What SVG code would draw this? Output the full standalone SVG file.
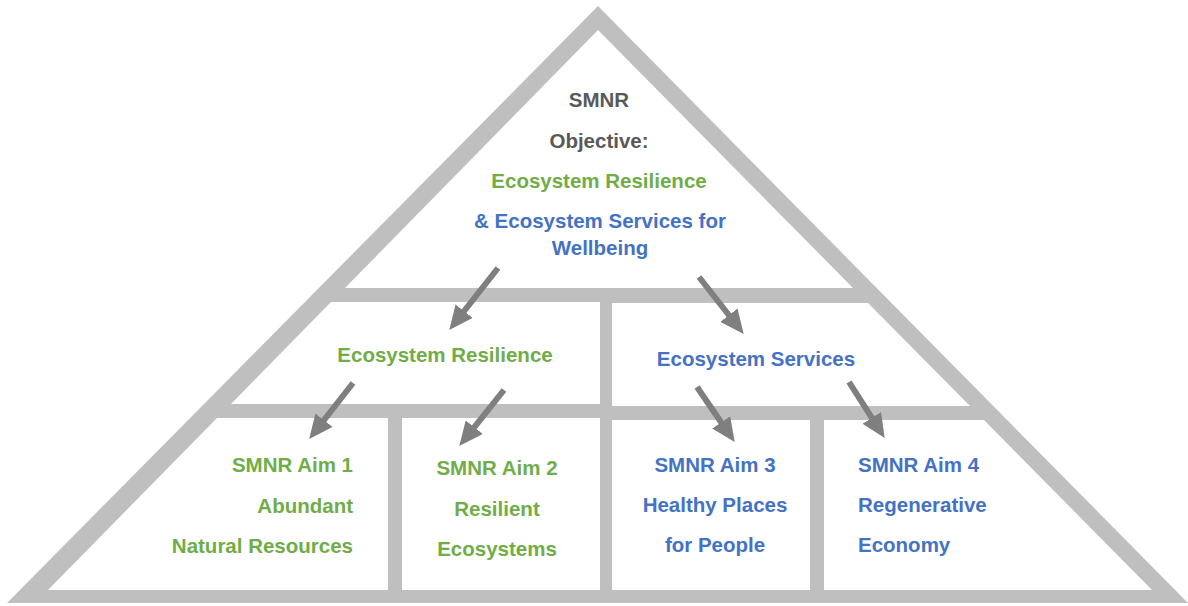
<svg xmlns="http://www.w3.org/2000/svg" width="1188" height="606" viewBox="0 0 1188 606">
  <style>
    .frame { fill: #BFBFBF; }
    .cell { fill: #FFFFFF; }
    .t { font-family: "Liberation Sans", Arial, sans-serif; font-weight: bold; font-size: 20.5px; }
    .gray { fill: #595959; }
    .green { fill: #70AD47; }
    .blue { fill: #4472C4; }
    .mid { text-anchor: middle; }
    .end { text-anchor: end; }
    .start { text-anchor: start; }
    .arrow { stroke: #7F7F7F; stroke-width: 6; fill: none; marker-end: url(#head); }
  </style>
  <defs>
    <marker id="head" markerUnits="userSpaceOnUse" markerWidth="24" markerHeight="22" viewBox="0 0 22 20" refX="8" refY="10" orient="auto">
      <path d="M0,0 L22,10 L0,20 Z" fill="#7F7F7F"/>
    </marker>
  </defs>
  <rect width="1188" height="606" fill="#FFFFFF"/>
  <g id="pyramid-frame">
    <polygon class="frame" points="598,6 7,603 1188,603"/>
  </g>
  <g id="objective">
    <polygon class="cell" points="598,30 345,288 853,288"/>
    <text class="t gray mid" x="599" y="107">SMNR</text>
    <text class="t gray mid" x="599" y="148">Objective:</text>
    <text class="t green mid" x="599" y="188">Ecosystem Resilience</text>
    <text class="t blue mid" x="600" y="228">&amp; Ecosystem Services for</text>
    <text class="t blue mid" x="600" y="255">Wellbeing</text>
  </g>
  <g id="ecosystem-resilience">
    <polygon class="cell" points="331,302 600,302 600,404 231,404"/>
    <text class="t green mid" x="445" y="362">Ecosystem Resilience</text>
  </g>
  <g id="ecosystem-services">
    <polygon class="cell" points="612,303 868,303 970,406 612,406"/>
    <text class="t blue mid" x="756" y="366">Ecosystem Services</text>
  </g>
  <g id="aim1">
    <polygon class="cell" points="217,418 388,418 388,590 48,590"/>
    <text class="t green end" x="353" y="472">SMNR Aim 1</text>
    <text class="t green end" x="353" y="513">Abundant</text>
    <text class="t green end" x="353" y="553">Natural Resources</text>
  </g>
  <g id="aim2">
    <rect class="cell" x="402" y="418" width="198" height="172"/>
    <text class="t green mid" x="497" y="475">SMNR Aim 2</text>
    <text class="t green mid" x="497" y="516">Resilient</text>
    <text class="t green mid" x="497" y="556">Ecosystems</text>
  </g>
  <g id="aim3">
    <rect class="cell" x="612" y="420" width="198" height="170"/>
    <text class="t blue mid" x="715" y="472">SMNR Aim 3</text>
    <text class="t blue mid" x="715" y="512">Healthy Places</text>
    <text class="t blue mid" x="715" y="552">for People</text>
  </g>
  <g id="aim4">
    <polygon class="cell" points="824,420 984,420 1152,590 824,590"/>
    <text class="t blue start" x="858" y="472">SMNR Aim 4</text>
    <text class="t blue start" x="858" y="512">Regenerative</text>
    <text class="t blue start" x="858" y="552">Economy</text>
  </g>
  <g id="connectors">
    <line class="arrow" x1="498" y1="268" x2="458.7" y2="318"/>
    <line class="arrow" x1="699" y1="277" x2="734.3" y2="322"/>
    <line class="arrow" x1="353" y1="383" x2="318.6" y2="427"/>
    <line class="arrow" x1="504" y1="390" x2="468.8" y2="434.1"/>
    <line class="arrow" x1="697" y1="387" x2="726.1" y2="429.5"/>
    <line class="arrow" x1="849" y1="382" x2="876.5" y2="425.2"/>
  </g>
</svg>
